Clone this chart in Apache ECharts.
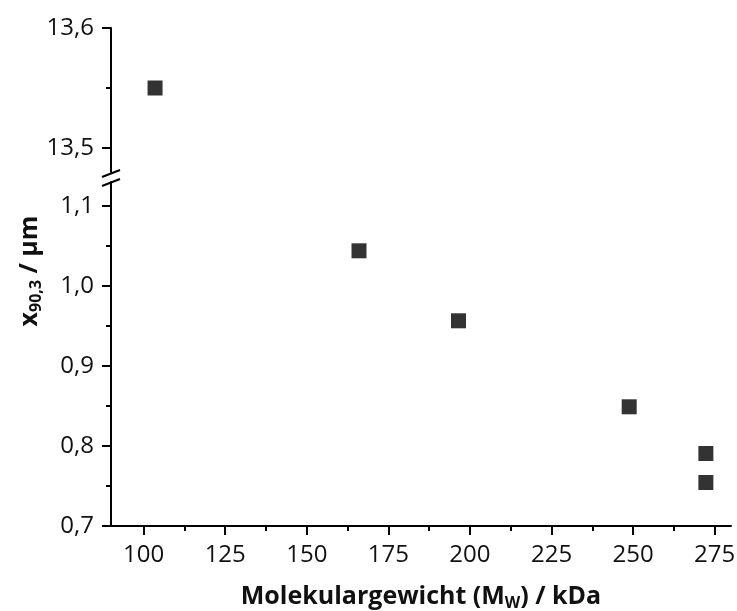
<!DOCTYPE html>
<html>
<head>
<meta charset="utf-8">
<script src="https://cdn.jsdelivr.net/npm/echarts@6/dist/echarts.min.js"></script>
<style>
html,body{margin:0;padding:0;background:#fff;}
#chart{width:737px;height:611px;}
</style>
</head>
<body>
<div id="chart"></div>
<script>
// Data
var molWeight = [103.5, 166, 196.5, 248.8, 272.3, 272.3];
var x903 = [13.55, 1.044, 0.9565, 0.849, 0.7906, 0.7544];

var xMajorTicks = [100, 125, 150, 175, 200, 225, 250, 275];
var xMinorTicks = [112.5, 137.5, 162.5, 187.5, 212.5, 237.5, 262.5];
var yLowMajor = [0.7, 0.8, 0.9, 1.0, 1.1];
var yLowMinor = [0.75, 0.85, 0.95, 1.05];
var yHighMajor = [13.5, 13.6];
var yHighMinor = [13.55];

var lowData = [], highData = [];
for (var i = 0; i < molWeight.length; i++) {
  if (x903[i] > 5) highData.push([molWeight[i], x903[i]]);
  else lowData.push([molWeight[i], x903[i]]);
}

var FONT = '"Open Sans", sans-serif';
var labelStyle = {color: '#111', fontFamily: FONT, fontSize: 24};
var axisLine = {show: true, lineStyle: {color: '#000', width: 2}};
function fmt(v) { return v.toFixed(1).replace('.', ','); }

var chart = echarts.init(document.getElementById('chart'), null, {renderer: 'canvas'});
chart.setOption({
  animation: false,
  backgroundColor: '#fff',
  grid: [
    {left: 111, right: 6, top: 182, height: 344, containLabel: false, outerBoundsMode: 'none'},
    {left: 111, right: 6, top: 28, height: 144, containLabel: false, outerBoundsMode: 'none'}
  ],
  xAxis: [
    {
      type: 'value', gridIndex: 0, min: 90, max: 280, position: 'bottom',
      axisLine: axisLine,
      axisTick: {show: true, customValues: xMajorTicks, length: 9, lineStyle: {color: '#000', width: 2}},
      axisLabel: Object.assign({customValues: xMajorTicks, margin: 17}, labelStyle),
      splitLine: {show: false},
      name: '{b|Molekulargewicht (M}{s|W}{b|) / kDa}',
      nameLocation: 'middle', nameGap: 56,
      nameTextStyle: {
        rich: {
          b: {fontFamily: FONT, fontSize: 25, fontWeight: 'bold', color: '#111', lineHeight: 30},
          s: {fontFamily: FONT, fontSize: 16, fontWeight: 'bold', color: '#111', lineHeight: 30, padding: [13, 0, 0, 0]}
        }
      }
    },
    {
      type: 'value', gridIndex: 0, min: 90, max: 280, position: 'bottom',
      axisLine: {show: false},
      axisTick: {show: true, customValues: xMinorTicks, length: 5, lineStyle: {color: '#000', width: 2}},
      axisLabel: {show: false},
      splitLine: {show: false}
    },
    {
      type: 'value', gridIndex: 1, min: 90, max: 280, show: false
    }
  ],
  yAxis: [
    {
      type: 'value', gridIndex: 0, min: 0.7, max: 1.13, position: 'left',
      axisLine: axisLine,
      axisTick: {show: true, customValues: yLowMajor, length: 9, lineStyle: {color: '#000', width: 2}},
      axisLabel: Object.assign({customValues: yLowMajor, formatter: fmt, margin: 17}, labelStyle),
      splitLine: {show: false}
    },
    {
      type: 'value', gridIndex: 0, min: 0.7, max: 1.13, position: 'left',
      axisLine: {show: false},
      axisTick: {show: true, customValues: yLowMinor, length: 5, lineStyle: {color: '#000', width: 2}},
      axisLabel: {show: false},
      splitLine: {show: false}
    },
    {
      type: 'value', gridIndex: 1, min: 13.48, max: 13.6, position: 'left',
      axisLine: axisLine,
      axisTick: {show: true, customValues: yHighMajor, length: 9, lineStyle: {color: '#000', width: 2}},
      axisLabel: Object.assign({customValues: yHighMajor, formatter: fmt, margin: 17}, labelStyle),
      splitLine: {show: false}
    },
    {
      type: 'value', gridIndex: 1, min: 13.48, max: 13.6, position: 'left',
      axisLine: {show: false},
      axisTick: {show: true, customValues: yHighMinor, length: 5, lineStyle: {color: '#000', width: 2}},
      axisLabel: {show: false},
      splitLine: {show: false}
    }
  ],
  series: [
    {
      type: 'scatter', xAxisIndex: 0, yAxisIndex: 0,
      symbol: 'rect', symbolSize: 15,
      itemStyle: {color: '#333', opacity: 1},
      data: lowData
    },
    {
      type: 'scatter', xAxisIndex: 2, yAxisIndex: 2,
      symbol: 'rect', symbolSize: 15,
      itemStyle: {color: '#333', opacity: 1},
      data: highData
    }
  ],
  graphic: [
    {type: 'line', shape: {x1: 102, y1: 177, x2: 120, y2: 170}, style: {stroke: '#000', lineWidth: 2}},
    {type: 'line', shape: {x1: 102, y1: 186, x2: 120, y2: 179}, style: {stroke: '#000', lineWidth: 2}},
    {
      type: 'text', x: 30, y: 271, rotation: Math.PI / 2,
      style: {
        text: '{b|x}{s|90,3}{b| / µm}',
        align: 'center', verticalAlign: 'middle',
        rich: {
          b: {fontFamily: FONT, fontSize: 25, fontWeight: 'bold', fill: '#111', lineHeight: 30},
          s: {fontFamily: FONT, fontSize: 16, fontWeight: 'bold', fill: '#111', lineHeight: 30, padding: [13, 0, 0, 0]}
        }
      }
    }
  ]
});
</script>
</body>
</html>
